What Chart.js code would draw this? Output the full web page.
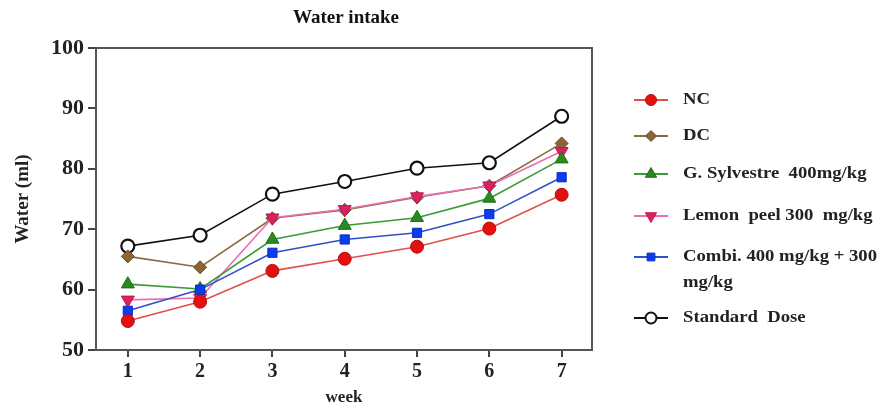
<!DOCTYPE html>
<html>
<head>
<meta charset="utf-8">
<script src="https://cdn.jsdelivr.net/npm/chart.js@4"></script>
<style>
  html, body { margin: 0; padding: 0; background: #fff; }
  #wrap { width: 884px; height: 408px; }
</style>
</head>
<body>
<div id="wrap"><canvas id="waterChart" width="884" height="408"></canvas></div>
<script>
// data
const weeks = [1, 2, 3, 4, 5, 6, 7];
const ncValues = [54.8, 58.0, 63.1, 65.1, 67.1, 70.1, 75.7];
const dcValues = [65.5, 63.7, 71.8, 73.2, 75.3, 77.2, 84.2];
const gsValues = [60.9, 60.1, 68.3, 70.6, 71.9, 75.1, 81.6];
const lemonValues = [58.3, 58.6, 71.9, 73.3, 75.4, 77.2, 82.9];
const combiValues = [56.5, 60.0, 66.1, 68.3, 69.4, 72.5, 78.6];
const standardValues = [67.2, 69.0, 75.8, 77.9, 80.1, 81.0, 88.7];
const yTicks = [50, 60, 70, 80, 90, 100];

const serif = "'Liberation Serif', 'DejaVu Serif', serif";

function toPoints(values) {
    return weeks.map((w, i) => ({ x: w, y: values[i] }));
}

// legend entries, in the order shown on the right
const legendItems = [
    { label: ['NC'], line: '#e0504a', fill: '#e41010', stroke: '#b01010', style: 'circle', r: 5.5 },
    { label: ['DC'], line: '#8a6a44', fill: '#8b6536', stroke: '#6b4a26', style: 'rectRot', r: 5.5 },
    { label: ['G. Sylvestre  400mg/kg'], line: '#3a9a3a', fill: '#2a8a1e', stroke: '#1e6e16', style: 'triangle', r: 6.5 },
    { label: ['Lemon  peel 300  mg/kg'], line: '#ee6cb4', fill: '#dc2060', stroke: '#c01850', style: 'triangle', r: 6.5, rot: 180 },
    { label: ['Combi. 400 mg/kg + 300', 'mg/kg'], line: '#3050c8', fill: '#0a3cf0', stroke: '#0a30c0', style: 'rect', r: 5.5 },
    { label: ['Standard  Dose'], line: '#111111', fill: '#ffffff', stroke: '#111111', style: 'circle', r: 5.5 }
];
const seriesValues = [ncValues, dcValues, gsValues, lemonValues, combiValues, standardValues];
const drawOrder = [0, 4, 2, 3, 1, 5];

const datasets = legendItems.map((it, i) => ({
    label: it.label.join(' '),
    data: toPoints(seriesValues[i]),
    borderColor: it.line,
    borderWidth: 1.6,
    backgroundColor: it.fill,
    pointBackgroundColor: it.fill,
    pointBorderColor: it.stroke,
    pointBorderWidth: it.fill === '#ffffff' ? 2.2 : 1,
    pointStyle: it.style,
    pointRotation: it.rot || 0,
    pointRadius: it.style === 'triangle' ? 7.5 : 6.5,
    tension: 0,
    order: drawOrder[i]
}));

// frame, title and side legend
const extras = {
    id: 'extras',
    afterDraw(chart) {
        const ctx = chart.ctx;
        const a = chart.chartArea;
        ctx.save();
        ctx.strokeStyle = '#555';
        ctx.lineWidth = 2;
        ctx.beginPath();
        ctx.moveTo(a.left, a.top);
        ctx.lineTo(a.right, a.top);
        ctx.lineTo(a.right, a.bottom);
        ctx.stroke();

        ctx.fillStyle = '#111';
        ctx.font = 'bold 19px ' + serif;
        ctx.textAlign = 'center';
        ctx.textBaseline = 'middle';
        ctx.fillText('Water intake', 346, 18);

        const rows = [100, 136, 174, 216, 257, 318];
        ctx.textAlign = 'left';
        ctx.font = 'bold 17px ' + serif;
        legendItems.forEach((it, i) => {
            const y = rows[i];
            ctx.strokeStyle = it.line;
            ctx.lineWidth = 1.8;
            ctx.beginPath();
            ctx.moveTo(634, y);
            ctx.lineTo(668, y);
            ctx.stroke();
            ctx.fillStyle = it.fill;
            ctx.strokeStyle = it.stroke;
            ctx.lineWidth = it.fill === '#ffffff' ? 2 : 1;
            Chart.helpers.drawPoint(ctx, {
                pointStyle: it.style, radius: it.r, rotation: it.rot || 0, borderWidth: ctx.lineWidth
            }, 651, y);
            ctx.fillStyle = '#222';
            it.label.forEach((t, k) => {
                // the source text is a little wider than Liberation Serif
                ctx.save();
                ctx.translate(683, y + k * 26);
                ctx.scale(1.1, 1);
                ctx.fillText(t, 0, 0);
                ctx.restore();
            });
        });
        ctx.restore();
    }
};

window.onload = function() {
    const ctx = document.getElementById('waterChart').getContext('2d');
    new Chart(ctx, {
        type: 'line',
        data: { datasets: datasets },
        options: {
            responsive: false,
            animation: false,
            layout: { padding: { top: 48, right: 292, left: 0, bottom: 0 } },
            plugins: {
                legend: { display: false },
                title: { display: false },
                tooltip: { enabled: false }
            },
            scales: {
                x: {
                    type: 'linear',
                    min: 0.56,
                    max: 7.42,
                    afterBuildTicks: s => { s.ticks = weeks.map(w => ({ value: w })); },
                    afterFit: s => { s.height = 58; },
                    grid: { display: true, drawOnChartArea: false, drawTicks: true, tickLength: 7, color: '#444', lineWidth: 2 },
                    border: { display: true, color: '#555', width: 2 },
                    ticks: { color: '#222', font: { family: serif, size: 20, weight: 'bold' }, padding: 3 },
                    title: { display: true, text: 'week', color: '#222', font: { family: serif, size: 17, weight: 'bold' }, padding: { top: 0, bottom: 0 } }
                },
                y: {
                    min: 50,
                    max: 100,
                    afterBuildTicks: s => { s.ticks = yTicks.map(v => ({ value: v })); },
                    afterFit: s => { s.width = 96; },
                    grid: { display: true, drawOnChartArea: false, drawTicks: true, tickLength: 8, color: '#444', lineWidth: 2 },
                    border: { display: true, color: '#555', width: 2 },
                    ticks: { color: '#222', font: { family: serif, size: 22, weight: 'bold' }, padding: 4 },
                    title: { display: true, text: 'Water (ml)', color: '#222', font: { family: serif, size: 19, weight: 'bold' }, padding: { top: 12, bottom: 0 } }
                }
            }
        },
        plugins: [extras]
    });
};
</script>
</body>
</html>
